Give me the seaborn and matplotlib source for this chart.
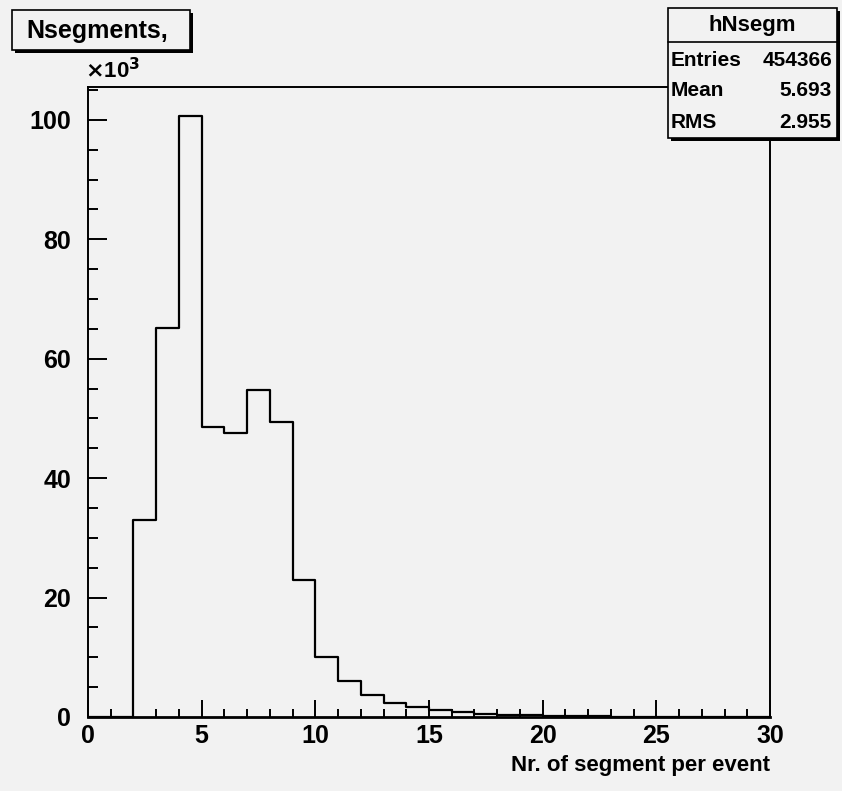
import numpy as np
import pandas as pd
import matplotlib
matplotlib.use("Agg")
import matplotlib.pyplot as plt
import seaborn as sns
from matplotlib.patches import Rectangle
from matplotlib.ticker import MultipleLocator

# bin lower edges (width 1) and counts in units of 10^3
bin_low = list(range(0, 30))
counts_k = [0, 0, 33.0, 65.2, 100.7, 48.5, 47.6, 54.8, 49.4, 23.0,
            10.0, 6.0, 3.7, 2.3, 1.6, 1.1, 0.8, 0.5, 0.4, 0.3,
            0.2, 0.15, 0.1, 0.08, 0.05, 0, 0, 0, 0, 0]
stats_labels = ["Entries", "Mean", "RMS"]
stats_values = ["454366", "5.693", "2.955"]

df = pd.DataFrame({"x": np.array(bin_low) + 0.5, "w": counts_k})

sns.set_style("ticks")
plt.rcParams["font.family"] = ["Liberation Sans Narrow", "Liberation Sans", "DejaVu Sans"]
plt.rcParams["font.weight"] = "bold"
plt.rcParams["text.color"] = "black"
plt.rcParams["xtick.color"] = "black"
plt.rcParams["ytick.color"] = "black"

bg = "#f2f2f2"
W, H = 842, 791
fig = plt.figure(figsize=(W / 100, H / 100), dpi=100, facecolor=bg)


def px(x0, y0, x1, y1):
    # pixel box (top-left origin) -> figure fraction rect
    return (x0 / W, 1 - y1 / H, (x1 - x0) / W, (y1 - y0) / H)


ax = fig.add_axes(px(88, 87, 770, 717), facecolor=bg)
sns.histplot(data=df, x="x", weights="w", bins=30, binrange=(0, 30),
             element="step", fill=False, color="black", linewidth=1.6, ax=ax)

ax.set_xlim(0, 30)
ax.set_ylim(0, 105.5)
ax.xaxis.set_major_locator(MultipleLocator(5))
ax.xaxis.set_minor_locator(MultipleLocator(1))
ax.yaxis.set_major_locator(MultipleLocator(20))
ax.yaxis.set_minor_locator(MultipleLocator(5))
ax.tick_params(axis="x", which="major", direction="in", length=12, width=1.4,
               labelsize=18, pad=5, colors="black")
ax.tick_params(axis="x", which="minor", direction="in", length=6, width=1.4)
ax.tick_params(axis="y", which="major", direction="in", length=14, width=1.4,
               labelsize=18, pad=12, colors="black")
ax.tick_params(axis="y", which="minor", direction="in", length=7, width=1.4)
for lbl in ax.get_xticklabels() + ax.get_yticklabels():
    lbl.set_fontweight("bold")
for s in ax.spines.values():
    s.set_color("black")
    s.set_linewidth(1.4)
ax.spines["bottom"].set_linewidth(2)

ax.set_xlabel("")
ax.set_ylabel("")
fig.text(770 / W, 1 - 765 / H, "Nr. of segment per event", ha="right", va="center",
         fontsize=16, fontweight="bold")
fig.text(85 / W, 1 - 71 / H, r"$\times$10$^{3}$", ha="left", va="center",
         fontsize=16, fontweight="bold")

# title box with shadow
s = px(15, 13, 193, 53)
fig.add_artist(Rectangle(s[:2], s[2], s[3], transform=fig.transFigure,
                         facecolor="black", edgecolor="none"))
r = px(12, 10, 190, 50)
fig.add_artist(Rectangle(r[:2], r[2], r[3], transform=fig.transFigure,
                         facecolor=bg, edgecolor="black", linewidth=1.2))
fig.text(97 / W, 1 - 31 / H, "Nsegments,", ha="center", va="center",
         fontsize=18, fontweight="bold")

# stats box with shadow
s = px(671, 11, 840, 141)
fig.add_artist(Rectangle(s[:2], s[2], s[3], transform=fig.transFigure,
                         facecolor="black", edgecolor="none", zorder=5))
r = px(668, 8, 837, 138)
fig.add_artist(Rectangle(r[:2], r[2], r[3], transform=fig.transFigure,
                         facecolor=bg, edgecolor="black", linewidth=1.2, zorder=6))
fig.add_artist(plt.Line2D([668 / W, 837 / W], [1 - 42 / H, 1 - 42 / H],
                          transform=fig.transFigure, color="black", linewidth=1.2, zorder=7))
fig.text(752 / W, 1 - 25 / H, "hNsegm", ha="center", va="center",
         fontsize=16, fontweight="bold", zorder=8)
for i, (lab, val) in enumerate(zip(stats_labels, stats_values)):
    y = 1 - (60 + i * 31) / H
    fig.text(671 / W, y, lab, ha="left", va="center", fontsize=15, fontweight="bold", zorder=8)
    fig.text(832 / W, y, val, ha="right", va="center", fontsize=15, fontweight="bold", zorder=8)

fig.savefig("out.png", dpi=100, facecolor=bg)
